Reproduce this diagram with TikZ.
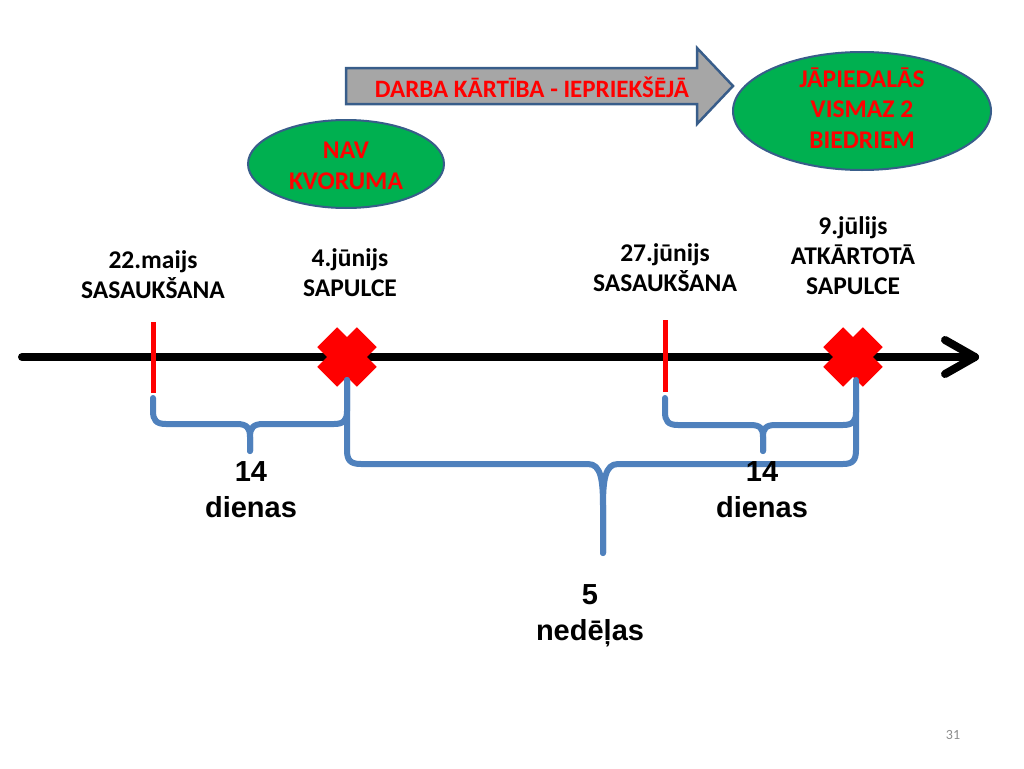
\documentclass[tikz,border=0pt]{standalone}
\usepackage{fontspec}
\setmainfont{Carlito}
\newfontfamily\arialfont{Liberation Sans}[BoldFont={Liberation Sans Bold}]
\usetikzlibrary{shapes.geometric}
\definecolor{ovalgreen}{HTML}{00B050}
\definecolor{darkborder}{HTML}{385D8A}
\definecolor{braceblue}{HTML}{4F81BD}
\definecolor{arrowgray}{HTML}{A6A6A6}
\definecolor{numgray}{HTML}{8C8C8C}
\begin{document}
\begin{tikzpicture}[x=1pt,y=-1pt,
  lbl/.style={font=\fontsize{25.5}{30}\selectfont\bfseries, align=center, text=black, inner sep=0pt},
  oval/.style={ellipse, draw=darkborder, line width=2pt, fill=ovalgreen, text=red, inner sep=0pt},
  ovaltext/.style={font=\fontsize{25.5}{30.5}\selectfont\bfseries, align=center, text=red, inner sep=0pt},
  span/.style={font=\arialfont\bfseries\fontsize{29}{36}\selectfont, align=center, text=black, inner sep=0pt},
  brace/.style={draw=braceblue, line width=6pt, line cap=round, line join=round},
  redtick/.style={draw=red, line width=5pt},
  xbar/.style={rectangle, fill=red, minimum width=56pt, minimum height=28pt, inner sep=0pt},
  axis/.style={draw=black, line width=8pt, line cap=round, line join=round}
]
\useasboundingbox (0,0) rectangle (1024,768);

% coordinates on the time line
\coordinate (start) at (22,357);
\coordinate (end) at (975,357);
\coordinate (t1) at (153,357);
\coordinate (x1) at (347,357);
\coordinate (t2) at (665,357);
\coordinate (x2) at (853,357);

% time line
\draw[axis] (start) -- (end);
\draw[axis] (945,340) -- (end) -- (945,374);

% red ticks
\draw[redtick] (153,322) -- (153,393);
\draw[redtick] (665,320) -- (665,392);

% red crosses
\node[xbar, rotate=45] (x1a) at (x1) {};
\node[xbar, rotate=-45] (x1b) at (x1) {};
\node[xbar, rotate=45] (x2a) at (x2) {};
\node[xbar, rotate=-45] (x2b) at (x2) {};

% brace 1 (22.maijs - 4.junijs)
\draw[brace] (250,451) -- (250,437) .. controls (250,428) and (247,424) .. (237,424)
  -- (166,424) .. controls (156,424) and (153,420) .. (153,411) -- (153,398);
\draw[brace] (250,451) -- (250,437) .. controls (250,428) and (253,424) .. (263,424)
  -- (334,424) .. controls (344,424) and (347,420) .. (347,411) -- (347,380);

% brace 2 (4.junijs - 9.julijs)
\draw[brace] (603,553) -- (603,507) .. controls (603,480) and (601,464) .. (588,464)
  -- (361,464) .. controls (350,464) and (347,460) .. (347,450) -- (347,380);
\draw[brace] (603,553) -- (603,507) .. controls (603,480) and (605,464) .. (618,464)
  -- (843,464) .. controls (853,464) and (856,460) .. (856,450) -- (856,380);

% brace 3 (27.junijs - 9.julijs)
\draw[brace] (763,451) -- (763,437) .. controls (763,428) and (760,425) .. (750,425)
  -- (678,425) .. controls (668,425) and (665,421) .. (665,412) -- (665,398);
\draw[brace] (763,451) -- (763,437) .. controls (763,428) and (766,425) .. (776,425)
  -- (843,425) .. controls (853,425) and (856,421) .. (856,412) -- (856,400);

% date labels
\node[lbl] (l1) at (153,275) {22.maijs\\SASAUKŠANA};
\node[lbl] (l2) at (350,273) {4.jūnijs\\SAPULCE};
\node[lbl] (l3) at (665,268) {27.jūnijs\\SASAUKŠANA};
\node[lbl] (l4) at (853,256) {9.jūlijs\\ATKĀRTOTĀ\\SAPULCE};

% span labels
\node[span] (s1) at (251,490) {14\\dienas};
\node[span] (s2) at (762,490) {14\\dienas};
\node[span] (s3) at (590,616) {5\\nedēļas};

% green ovals
\node[oval, minimum width=196pt, minimum height=88pt] (o1) at (346,164) {};
\node[ovaltext] (o1t) at (346,166) {NAV\\KVORUMA};
\node[oval, minimum width=258pt, minimum height=118pt] (o2) at (862,111) {};
\node[ovaltext] (o2t) at (862,108) {JĀPIEDALĀS\\VISMAZ 2\\BIEDRIEM};

% block arrow
\draw[draw=darkborder, line width=2.5pt, fill=arrowgray, line join=miter]
  (346,68) -- (697,68) -- (697,48) -- (733,86) -- (697,124) -- (697,104) -- (346,104) -- cycle;
\node[font=\fontsize{25}{28}\selectfont\bfseries, text=red, inner sep=0pt] (ar) at (532,87) {DARBA KĀRTĪBA - IEPRIEKŠĒJĀ};

% page number
\node[font=\fontsize{14}{16}\selectfont, text=numgray, inner sep=0pt] (pg) at (953,735) {31};
\end{tikzpicture}
\end{document}
